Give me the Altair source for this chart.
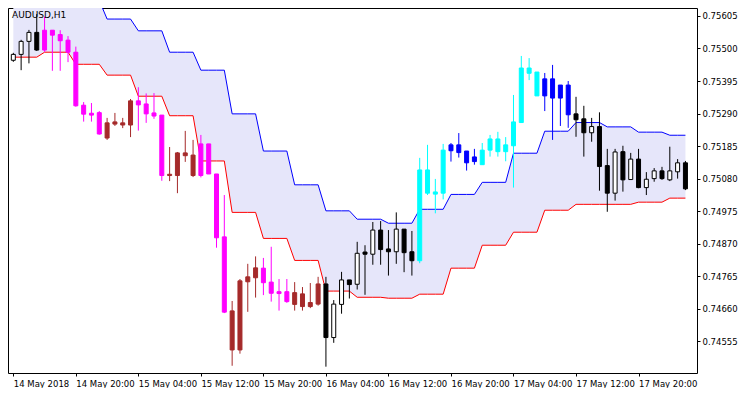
import altair as alt
import pandas as pd

# ---- axis ticks -------------------------------------------------------------
tick_bars = [0, 8, 16, 24, 32, 40, 48, 56, 64, 72, 80]
tick_labels = ["14 May 2018", "14 May 20:00", "15 May 04:00", "15 May 12:00",
               "15 May 20:00", "16 May 04:00", "16 May 12:00", "16 May 20:00",
               "17 May 04:00", "17 May 12:00", "17 May 20:00"]
price_ticks = [0.74555, 0.74660, 0.74765, 0.74870, 0.74975, 0.75080,
               0.75185, 0.75290, 0.75395, 0.75500, 0.75605]

# ---- H1 candles (bar 0 = 14 May 12:00) --------------------------------------
opens = [0.75462, 0.75481, 0.75523, 0.75552, 0.75495, 0.75559, 0.75545, 0.75527,
         0.75488, 0.75317, 0.75291, 0.75293, 0.75211, 0.75256, 0.75260, 0.75253,
         0.75331, 0.75321, 0.75292, 0.75285, 0.75090, 0.75090, 0.75154, 0.75156,
         0.75090, 0.75192, 0.75095, 0.74892, 0.74653, 0.74527, 0.74747, 0.74760,
         0.74791, 0.74746, 0.74715, 0.74715, 0.74674, 0.74708, 0.74667, 0.74675,
         0.74740, 0.74567, 0.74674, 0.74753, 0.74739, 0.74843, 0.74836, 0.74914,
         0.74853, 0.74844, 0.74917, 0.74844, 0.74815, 0.75108, 0.75037, 0.75033,
         0.75170, 0.75189, 0.75169, 0.75135, 0.75125, 0.75172, 0.75167, 0.75167,
         0.75186, 0.75261, 0.75420, 0.75424, 0.75347, 0.75402, 0.75382, 0.75382,
         0.75289, 0.75273, 0.75228, 0.75248, 0.75122, 0.75033, 0.75167, 0.75077,
         0.75143, 0.75051, 0.75080, 0.75105, 0.75076, 0.75102, 0.75131]
highs = [0.75486, 0.75528, 0.75560, 0.75611, 0.75603, 0.75559, 0.75559, 0.75540,
         0.75506, 0.75327, 0.75324, 0.75298, 0.75276, 0.75292, 0.75276, 0.75337,
         0.75375, 0.75355, 0.75356, 0.75285, 0.75182, 0.75166, 0.75234, 0.75205,
         0.75221, 0.75192, 0.75095, 0.75027, 0.74685, 0.74756, 0.74805, 0.74829,
         0.74824, 0.74860, 0.74756, 0.74756, 0.74746, 0.74730, 0.74743, 0.74763,
         0.74763, 0.74688, 0.74779, 0.74753, 0.74876, 0.74865, 0.74940, 0.74943,
         0.74914, 0.74971, 0.74917, 0.74911, 0.75147, 0.75189, 0.75079, 0.75192,
         0.75195, 0.75227, 0.75169, 0.75176, 0.75195, 0.75221, 0.75231, 0.75214,
         0.75350, 0.75476, 0.75469, 0.75424, 0.75421, 0.75447, 0.75382, 0.75395,
         0.75344, 0.75315, 0.75276, 0.75294, 0.75176, 0.75176, 0.75186, 0.75163,
         0.75176, 0.75101, 0.75114, 0.75118, 0.75183, 0.75143, 0.75137]
lows = [0.75457, 0.75430, 0.75452, 0.75492, 0.75489, 0.75428, 0.75428, 0.75456,
        0.75312, 0.75264, 0.75264, 0.75222, 0.75205, 0.75250, 0.75243, 0.75214,
        0.75235, 0.75260, 0.75273, 0.75073, 0.75072, 0.75033, 0.75134, 0.75085,
        0.75084, 0.75095, 0.74857, 0.74646, 0.74476, 0.74515, 0.74650, 0.74696,
        0.74704, 0.74683, 0.74654, 0.74679, 0.74654, 0.74654, 0.74662, 0.74670,
        0.74473, 0.74550, 0.74644, 0.74693, 0.74722, 0.74705, 0.74802, 0.74802,
        0.74767, 0.74805, 0.74778, 0.74767, 0.74807, 0.75027, 0.74968, 0.75013,
        0.75135, 0.75148, 0.75106, 0.75125, 0.75125, 0.75151, 0.75151, 0.75136,
        0.75051, 0.75261, 0.75398, 0.75347, 0.75298, 0.75205, 0.75250, 0.75244,
        0.75215, 0.75151, 0.75199, 0.75041, 0.74973, 0.75009, 0.75038, 0.75077,
        0.75049, 0.75027, 0.75070, 0.75076, 0.75072, 0.75080, 0.75043]
closes = [0.75481, 0.75523, 0.75552, 0.75495, 0.75559, 0.75543, 0.75525, 0.75488,
          0.75315, 0.75288, 0.75285, 0.75224, 0.75260, 0.75263, 0.75253, 0.75331,
          0.75318, 0.75289, 0.75282, 0.75090, 0.75094, 0.75163, 0.75163, 0.75090,
          0.75192, 0.75095, 0.74889, 0.74649, 0.74527, 0.74750, 0.74763, 0.74792,
          0.74744, 0.74710, 0.74709, 0.74683, 0.74712, 0.74667, 0.74680, 0.74740,
          0.74567, 0.74675, 0.74753, 0.74738, 0.74839, 0.74836, 0.74914, 0.74851,
          0.74844, 0.74917, 0.74841, 0.74815, 0.75108, 0.75033, 0.75030, 0.75172,
          0.75189, 0.75164, 0.75131, 0.75150, 0.75172, 0.75208, 0.75208, 0.75189,
          0.75263, 0.75437, 0.75437, 0.75347, 0.75402, 0.75340, 0.75340, 0.75286,
          0.75270, 0.75228, 0.75248, 0.75119, 0.75033, 0.75166, 0.75076, 0.75143,
          0.75051, 0.75078, 0.75105, 0.75080, 0.75105, 0.75131, 0.75047]
# trend state of each candle (indicator colouring)
trends = (["flat"] * 4 + ["down"] * 8 + ["down_weak"] * 4 + ["down"] * 4 +
          ["down_weak"] * 4 + ["down"] * 4 + ["down_weak"] * 4 + ["down"] * 4 +
          ["down_weak"] * 4 + ["flat"] * 12 + ["up"] * 4 + ["up_weak"] * 4 +
          ["up"] * 8 + ["up_weak"] * 4 + ["flat"] * 15)

# ---- channel, one value per H4 bar -------------------------------------------
upper_h4 = [0.75670, 0.75670, 0.75655, 0.75595, 0.75557, 0.75488, 0.75430, 0.75289,
            0.75169, 0.75060, 0.74976, 0.74949, 0.74936, 0.74981, 0.75029, 0.75068,
            0.75162, 0.75233, 0.75261, 0.75247, 0.75230, 0.75220]
lower_h4 = [0.75472, 0.75488, 0.75449, 0.75414, 0.75346, 0.75283, 0.75137, 0.74971,
            0.74887, 0.74816, 0.74717, 0.74697, 0.74694, 0.74707, 0.74791, 0.74865,
            0.74907, 0.74978, 0.74997, 0.74997, 0.75004, 0.75017]

n = len(opens)
df = pd.DataFrame({"bar": list(range(n)), "open": opens, "high": highs,
                   "low": lows, "close": closes, "trend": trends})
df["paint"] = [t if t != "flat" else ("flat_bull" if c >= o else "flat_bear")
               for t, o, c in zip(trends, opens, closes)]

band = pd.DataFrame({
    "bar": list(range(n)),
    "upper": [v for v in upper_h4 for _ in range(4)][:n],
    "lower": [v for v in lower_h4 for _ in range(4)][:n],
})

FONT = "DejaVu Sans"
label_expr = ("[" + ",".join("'%s'" % s for s in tick_labels) + "][indexof(" +
              str(tick_bars) + ", datum.value)]")

x_axis = alt.Axis(values=tick_bars, labelExpr=label_expr, labelAlign="left",
                  labelBaseline="top", labelPadding=3, tickSize=3, grid=False,
                  domain=False, labelOverlap=False, labelFlush=False, title=None,
                  ticks=True, tickColor="black", labelColor="black",
                  labelFont=FONT, labelFontSize=8.5)
y_axis = alt.Axis(values=price_ticks, format=".5f", orient="right", tickSize=3,
                  labelPadding=2, grid=False, domain=False, title=None,
                  labelOverlap=False, labelFlush=False, tickColor="black",
                  labelColor="black", labelFont=FONT, labelFontSize=8.5)

x_scale = alt.Scale(domain=[-0.04, 86.84], nice=False, zero=False)
y_scale = alt.Scale(domain=[0.744526, 0.756307], nice=False, zero=False)

X = alt.X("bar:Q", scale=x_scale, axis=x_axis)

paint_domain = ["down", "down_weak", "up", "up_weak", "flat_bull", "flat_bear"]
fill_range = ["#FF00FF", "#A52A2A", "#00FFFF", "#0000FF", "#FFFFFF", "#000000"]
line_range = ["#FF00FF", "#A52A2A", "#00FFFF", "#0000FF", "#000000", "#000000"]

area = alt.Chart(band).mark_area(color="#E6E6FA", clip=True).encode(
    x=X,
    y=alt.Y("lower:Q", scale=y_scale, axis=y_axis),
    y2="upper:Q",
)
upper_line = alt.Chart(band).mark_line(color="#0000FF", strokeWidth=1, clip=True).encode(
    x=X, y=alt.Y("upper:Q", scale=y_scale, axis=y_axis))
lower_line = alt.Chart(band).mark_line(color="#FF0000", strokeWidth=1, clip=True).encode(
    x=X, y=alt.Y("lower:Q", scale=y_scale, axis=y_axis))

wicks = alt.Chart(df).mark_rule(strokeWidth=1, clip=True).encode(
    x=X,
    y=alt.Y("low:Q", scale=y_scale, axis=y_axis),
    y2="high:Q",
    color=alt.Color("paint:N", scale=alt.Scale(domain=paint_domain, range=line_range),
                    legend=None),
)
bodies = alt.Chart(df).mark_bar(size=4, strokeWidth=1, clip=True).encode(
    x=X,
    y=alt.Y("open:Q", scale=y_scale, axis=y_axis),
    y2="close:Q",
    fill=alt.Fill("paint:N", scale=alt.Scale(domain=paint_domain, range=fill_range),
                  legend=None),
    stroke=alt.Stroke("paint:N", scale=alt.Scale(domain=paint_domain, range=line_range),
                      legend=None),
)

title = alt.Chart(pd.DataFrame({"t": ["AUDUSD,H1"]})).mark_text(
    align="left", baseline="top", font=FONT, fontSize=9, color="black"
).encode(x=alt.value(4), y=alt.value(3), text="t:N")

chart = alt.layer(area, upper_line, lower_line, wicks, bodies, title).properties(
    width=689, height=365, padding=0, background="white"
).configure_view(stroke="black", strokeWidth=1)

chart.save("out.html", embed_options={"renderer": "svg", "actions": False})
